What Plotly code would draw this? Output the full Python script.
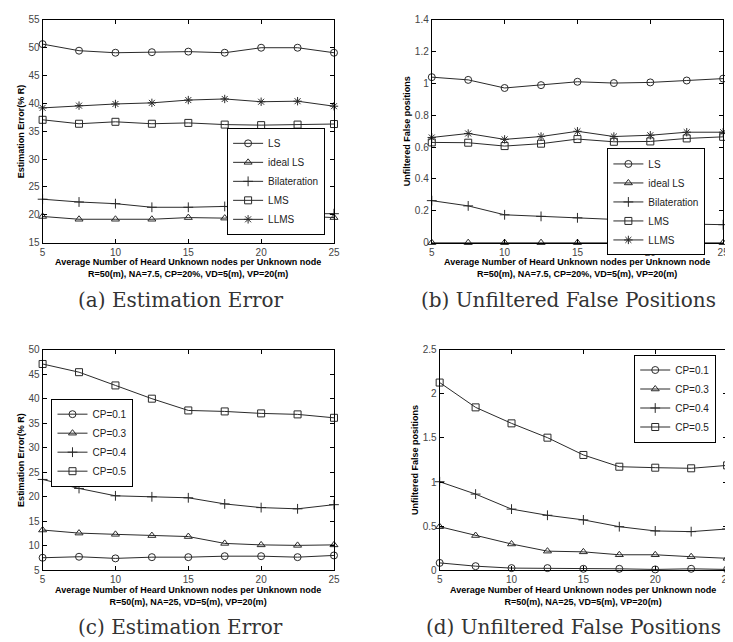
import plotly.graph_objects as go

# ---------------- data ----------------
x_nodes = [5, 7.5, 10, 12.5, 15, 17.5, 20, 22.5, 25]

# (a) Estimation Error (% R)
a_ls = [50.65, 49.47, 49.1, 49.2, 49.3, 49.1, 50.0, 50.0, 49.1]
a_ideal = [19.7, 19.2, 19.2, 19.2, 19.5, 19.4, 19.7, 19.8, 19.5]
a_bilat = [22.8, 22.3, 22.0, 21.35, 21.35, 21.5, 20.9, 20.2, 20.2]
a_lms = [37.06, 36.35, 36.7, 36.35, 36.5, 36.2, 36.1, 36.2, 36.3]
a_llms = [39.2, 39.6, 39.9, 40.1, 40.6, 40.8, 40.3, 40.4, 39.5]

# (b) Unfiltered False positions
b_ls = [1.04, 1.023, 0.972, 0.99, 1.011, 1.003, 1.007, 1.019, 1.031]
b_ideal = [0, 0, 0, 0, 0, 0, 0, 0, 0]
b_bilat = [0.264, 0.231, 0.175, 0.165, 0.156, 0.146, 0.113, 0.117, 0.113]
b_lms = [0.63, 0.628, 0.607, 0.622, 0.651, 0.634, 0.636, 0.655, 0.665]
b_llms = [0.661, 0.686, 0.649, 0.667, 0.700, 0.667, 0.675, 0.694, 0.694]

# (c) Estimation Error (% R) vs CP
c_cp01 = [7.58, 7.78, 7.45, 7.7, 7.7, 7.9, 7.9, 7.7, 8.05]
c_cp03 = [13.23, 12.6, 12.35, 12.1, 11.9, 10.5, 10.2, 10.1, 10.2]
c_cp04 = [23.54, 21.7, 20.2, 20.0, 19.8, 18.55, 17.8, 17.55, 18.4]
c_cp05 = [47.07, 45.4, 42.7, 40.0, 37.6, 37.4, 37.0, 36.8, 36.1]

# (d) Unfiltered False positions vs CP
d_cp01 = [0.085, 0.048, 0.026, 0.026, 0.018, 0.018, 0.011, 0.018, 0.011]
d_cp03 = [0.495, 0.395, 0.299, 0.218, 0.210, 0.177, 0.177, 0.155, 0.137]
d_cp04 = [1.004, 0.864, 0.694, 0.624, 0.572, 0.495, 0.447, 0.439, 0.469]
d_cp05 = [2.127, 1.846, 1.665, 1.503, 1.307, 1.174, 1.163, 1.156, 1.189]

method_names = ["LS", "ideal LS", "Bilateration", "LMS", "LLMS"]
method_symbols = ["circle-open", "triangle-up-open", "cross-thin-open", "square-open", "asterisk-open"]
cp_names = ["CP=0.1", "CP=0.3", "CP=0.4", "CP=0.5"]
cp_symbols = ["circle-open", "triangle-up-open", "cross-thin-open", "square-open"]

x_title_main = "Average Number of Heard Unknown nodes per Unknown node"
x_title_ab = "R=50(m), NA=7.5, CP=20%, VD=5(m), VP=20(m)"
x_title_cd = "R=50(m), NA=25, VD=5(m), VP=20(m)"
y_titles = ["Estimation Error(% R)", "Unfiltered False positions",
            "Estimation Error(% R)", "Unfiltered False positions"]
captions = ["(a) Estimation Error", "(b) Unfiltered False Positions",
            "(c) Estimation Error", "(d) Unfiltered False Positions"]

# ---------------- layout geometry ----------------
W, H = 733, 642
LINE = "#2a2a2a"


def px_x(p):
    return p / W


def px_y(p):
    return 1 - p / H


panels = [
    dict(x0=32, x1=327, y0=6, y1=233, yr=[15, 55], dt=5, legend="legend",
         lx=318, ly=116, lxa="right", xs=1, ytx=10, capx=172),
    dict(x0=426, x1=721, y0=6, y1=233, yr=[0, 1.4], dt=0.2, legend="legend2",
         lx=703, ly=137, lxa="right", xs=2, ytx=401, capx=564),
    dict(x0=32, x1=327, y0=342, y1=567, yr=[5, 50], dt=5, legend="legend3",
         lx=41, ly=392, lxa="left", xs=3, ytx=10, capx=172),
    dict(x0=434, x1=725, y0=342, y1=567, yr=[0, 2.5], dt=0.5, legend="legend4",
         lx=714, ly=347, lxa="right", xs=4, ytx=409, capx=569),
]

series = [
    list(zip(method_names, method_symbols, [a_ls, a_ideal, a_bilat, a_lms, a_llms])),
    list(zip(method_names, method_symbols, [b_ls, b_ideal, b_bilat, b_lms, b_llms])),
    list(zip(cp_names, cp_symbols, [c_cp01, c_cp03, c_cp04, c_cp05])),
    list(zip(cp_names, cp_symbols, [d_cp01, d_cp03, d_cp04, d_cp05])),
]

fig = go.Figure()
layout = dict(width=W, height=H, margin=dict(l=0, r=0, t=0, b=0),
              paper_bgcolor="white", plot_bgcolor="white",
              font=dict(family="Liberation Sans, Arial, sans-serif", size=10, color="#222"))
annotations = []

for i, (p, ser) in enumerate(zip(panels, series)):
    k = p["xs"]
    xa = "x" if k == 1 else f"x{k}"
    ya = "y" if k == 1 else f"y{k}"
    for name, sym, vals in ser:
        fig.add_trace(go.Scatter(
            x=x_nodes, y=vals, name=name, mode="lines+markers",
            xaxis=xa, yaxis=ya, legend=p["legend"],
            line=dict(color=LINE, width=1),
            marker=dict(symbol=sym, size=7, color=LINE, line=dict(width=1, color=LINE)),
            cliponaxis=False,
        ))
    axis_common = dict(showline=True, linecolor="black", linewidth=1, mirror="ticks",
                       ticks="inside", ticklen=4, tickcolor="black", showgrid=False,
                       zeroline=False, tickfont=dict(size=10, color="#444"))
    layout["xaxis" if k == 1 else f"xaxis{k}"] = dict(
        domain=[px_x(p["x0"]), px_x(p["x1"])], anchor=ya, range=[5, 25],
        tickmode="array", tickvals=[5, 10, 15, 20, 25], **axis_common)
    layout["yaxis" if k == 1 else f"yaxis{k}"] = dict(
        domain=[px_y(p["y1"]), px_y(p["y0"])], anchor=xa, range=p["yr"],
        dtick=p["dt"], tick0=p["yr"][0], **axis_common)
    layout[p["legend"]] = dict(
        x=px_x(p["lx"]), y=px_y(p["ly"]), xanchor=p["lxa"], yanchor="top",
        bgcolor="white", bordercolor="black", borderwidth=1,
        font=dict(size=10, color="#222"), itemwidth=30, tracegroupgap=0)

    cx = (p["x0"] + p["x1"]) / 2
    sub = x_title_ab if i < 2 else x_title_cd
    annotations.append(dict(
        x=px_x(cx), y=px_y(p["y1"] + 13), xref="paper", yref="paper",
        text=f"<b>{x_title_main}</b><br><b>{sub}</b>", showarrow=False,
        xanchor="center", yanchor="top", align="center",
        font=dict(size=9, color="black")))
    annotations.append(dict(
        x=px_x(p["ytx"]), y=px_y((p["y0"] + p["y1"]) / 2), xref="paper", yref="paper",
        text=f"<b>{y_titles[i]}</b>", showarrow=False, textangle=-90,
        xanchor="center", yanchor="middle", font=dict(size=9, color="black")))
    annotations.append(dict(
        x=px_x(p["capx"]), y=px_y(p["y1"] + 58), xref="paper", yref="paper",
        text=captions[i], showarrow=False, xanchor="center", yanchor="middle",
        font=dict(family="DejaVu Serif, serif", size=20, color="#333")))

layout["annotations"] = annotations
fig.update_layout(**layout)
fig.write_html("out.html")
